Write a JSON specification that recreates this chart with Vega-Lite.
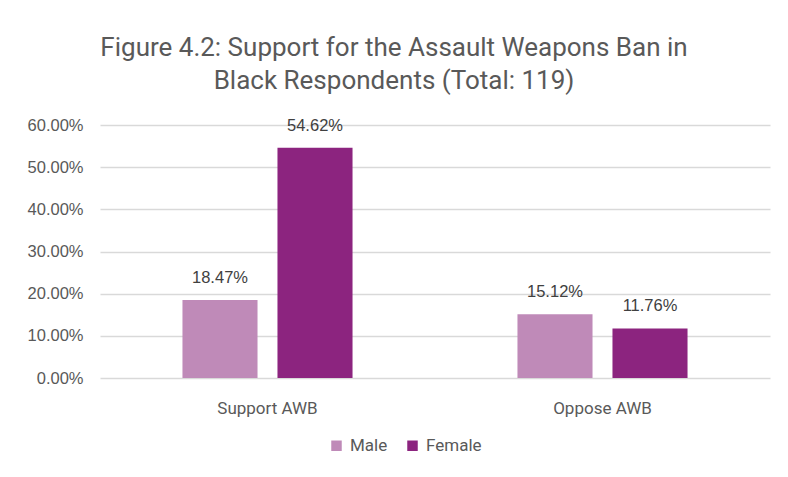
{
  "$schema": "https://vega.github.io/schema/vega-lite/v6.json",
  "autosize": "none",
  "width": 670,
  "height": 253,
  "padding": {"left": 100, "top": 125, "right": 18, "bottom": 99},
  "background": "white",
  "title": {
    "text": ["Figure 4.2: Support for the Assault Weapons Ban in", "Black Respondents (Total: 119)"],
    "font": "Roboto",
    "fontSize": 26,
    "fontWeight": "normal",
    "color": "#595959",
    "anchor": "middle",
    "frame": "group",
    "dx": -41,
    "offset": 23,
    "lineHeight": 33
  },
  "data": {
    "values": [
      {"response": "Support AWB", "gender": "Male", "pct": 0.1847},
      {"response": "Support AWB", "gender": "Female", "pct": 0.5462},
      {"response": "Oppose AWB", "gender": "Male", "pct": 0.1512},
      {"response": "Oppose AWB", "gender": "Female", "pct": 0.1176}
    ]
  },
  "encoding": {
    "x": {
      "field": "response", "type": "nominal", "sort": ["Support AWB", "Oppose AWB"],
      "scale": {"paddingInner": 0, "paddingOuter": 0},
      "axis": {"title": null, "labelAngle": 0, "labelFont": "Roboto", "labelFontSize": 17, "labelColor": "#595959", "ticks": false, "domain": false, "labelPadding": 22}
    },
    "xOffset": {"field": "gender", "type": "nominal", "sort": ["Male", "Female"], "scale": {"paddingInner": 0.21, "paddingOuter": 0.868}},
    "y": {
      "field": "pct", "type": "quantitative",
      "scale": {"domain": [0, 0.6]},
      "axis": {"title": null, "values": [0, 0.1, 0.2, 0.3, 0.4, 0.5, 0.6], "format": ".2%", "labelFont": "Liberation Sans", "labelFontSize": 16.5, "labelColor": "#595959", "ticks": false, "domain": false, "gridColor": "#D9D9D9", "gridWidth": 1.5, "labelPadding": 17}
    }
  },
  "layer": [
    {
      "mark": {"type": "bar"},
      "encoding": {
        "color": {
          "field": "gender", "type": "nominal",
          "scale": {"domain": ["Male", "Female"], "range": ["#BF8AB8", "#8C247F"]},
          "legend": {"title": null, "orient": "none", "legendX": 228, "legendY": 312, "direction": "horizontal", "symbolType": "square", "symbolSize": 110, "labelFont": "Roboto", "labelFontSize": 17, "labelColor": "#595959", "columnPadding": 16, "labelOffset": 5}
        }
      }
    },
    {
      "mark": {"type": "text", "baseline": "middle", "dy": -22, "font": "Liberation Sans", "fontSize": 16.5, "color": "#404040"},
      "encoding": {
        "text": {"field": "pct", "type": "quantitative", "format": ".2%"}
      }
    }
  ],
  "config": {"view": {"stroke": null}}
}
